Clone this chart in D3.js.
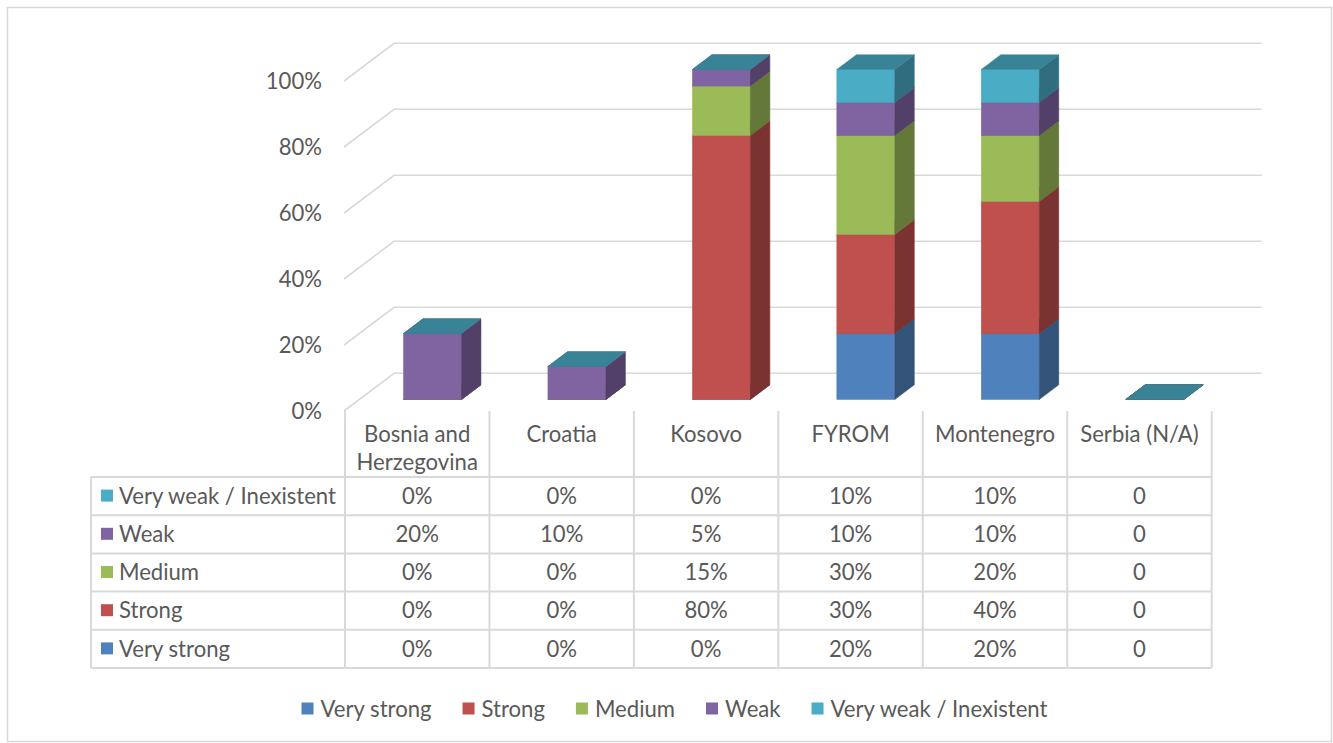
<!DOCTYPE html>
<html>
<head>
<meta charset="utf-8">
<script src="https://cdn.jsdelivr.net/npm/d3@7"></script>
<style>
  html, body { margin: 0; padding: 0; background: #fff; }
  svg { display: block; }
</style>
</head>
<body>
<svg id="chart" width="1333" height="743"></svg>
<script>
// ---- data ----
const categories = ["Bosnia and Herzegovina", "Croatia", "Kosovo", "FYROM", "Montenegro", "Serbia (N/A)"];
const seriesNames = ["Very strong", "Strong", "Medium", "Weak", "Very weak / Inexistent"];
const veryStrong = [0, 0, 0, 20, 20, 0];
const strong     = [0, 0, 80, 30, 40, 0];
const medium     = [0, 0, 15, 30, 20, 0];
const weak       = [20, 10, 5, 10, 10, 0];
const veryWeak   = [0, 0, 0, 10, 10, 0];
const notAvailable = [false, false, false, false, false, true];
const yTicks = [0, 20, 40, 60, 80, 100];
const seriesColors = ["#4F81BD", "#C0504D", "#9BBB59", "#8064A2", "#4BACC6"];

const seriesValues = [veryStrong, strong, medium, weak, veryWeak];
const rows = categories.map((c, i) => {
  const r = { category: c };
  seriesNames.forEach((s, k) => { r[s] = seriesValues[k][i]; });
  return r;
});

// ---- layout ----
const svg = d3.select("#chart");
const W = 1333, H = 743;
const textColor = "#595959";
const lineColor = "#d9d9d9";
const fontFamily = "Lato, 'Open Sans', sans-serif";

svg.append("rect").attr("x", 7.5).attr("y", 7.5).attr("width", W - 9).attr("height", H - 9)
  .attr("fill", "#fff").attr("stroke", lineColor).attr("stroke-width", 1.5);

// size text so the longest row label fills the label column
const probe = svg.append("text").attr("font-family", fontFamily).attr("font-size", 100)
  .text("Very weak / Inexistent");
const fontSize = Math.min(24, 100 * 217 / probe.node().getComputedTextLength());
probe.remove();

const x = d3.scaleBand().domain(categories).range([345, 1211.7]);
const y = d3.scaleLinear().domain([0, 100]).range([411, 81]);
const bw = x.bandwidth();

// oblique depth of the walls
const DX = 50, DY = -37.7;
const f0 = 0.305, f1 = 0.695;   // bar front / back depth
const barW = 58;

// ---- walls ----
const grid = svg.append("g").attr("fill", "none").attr("stroke", lineColor).attr("stroke-width", 1.6);
yTicks.forEach(t => {
  const y0 = y(t);
  grid.append("path").attr("d",
    `M${x.range()[0] - 1},${y0}L${x.range()[0] - 1 + DX},${y0 + DY}L${x.range()[1] + DX},${y0 + DY}`);
});

svg.append("g").selectAll("text").data(yTicks).join("text")
  .attr("x", 322).attr("y", d => y(d)).attr("dy", "0.35em")
  .attr("text-anchor", "end").attr("font-family", fontFamily).attr("font-size", fontSize)
  .attr("fill", textColor).text(d => d + "%");

// ---- stacked 3D bars ----
const stack = d3.stack().keys(seriesNames)(rows);
const barsG = svg.append("g");
categories.forEach((cat, ci) => {
  const x0 = x(cat) + (bw - barW) / 2 + DX * f0;
  const ddx = DX * (f1 - f0), ddy = DY * (f1 - f0);
  stack.forEach((layer, k) => {
    const seg = layer[ci];
    const yb0 = y(seg[0]) + DY * f0, yb1 = y(seg[1]) + DY * f0;
    const base = d3.color(seriesColors[k]);
    const side = d3.rgb(base.r * 0.64, base.g * 0.64, base.b * 0.64);
    const top = d3.rgb(base.r * 0.76, base.g * 0.76, base.b * 0.76);
    if (yb0 - yb1 > 0) {
      barsG.append("rect").attr("x", x0).attr("y", yb1).attr("width", barW).attr("height", yb0 - yb1)
        .attr("fill", base).attr("stroke", base).attr("stroke-width", 0.5);
      barsG.append("path")
        .attr("d", `M${x0 + barW},${yb1}L${x0 + barW + ddx},${yb1 + ddy}L${x0 + barW + ddx},${yb0 + ddy}L${x0 + barW},${yb0}Z`)
        .attr("fill", side).attr("stroke", side).attr("stroke-width", 0.5);
    }
    barsG.append("path")
      .attr("d", `M${x0},${yb1}L${x0 + barW},${yb1}L${x0 + barW + ddx},${yb1 + ddy}L${x0 + ddx},${yb1 + ddy}Z`)
      .attr("fill", top).attr("stroke", top).attr("stroke-width", 0.5);
  });
});

// ---- data table ----
const tableTop = 477, rowH = 38.2, tableLeft = 91;
const tableRight = x.range()[1];
const tableBottom = tableTop + rowH * seriesNames.length;
const tbl = svg.append("g").attr("stroke", lineColor).attr("stroke-width", 2);
d3.range(categories.length + 1).forEach(i => {
  const xx = x.range()[0] + i * bw;
  tbl.append("line").attr("x1", xx).attr("x2", xx).attr("y1", y(0)).attr("y2", tableBottom);
});
tbl.append("line").attr("x1", tableLeft).attr("x2", tableLeft).attr("y1", tableTop).attr("y2", tableBottom);
d3.range(seriesNames.length + 1).forEach(i => {
  const yy = tableTop + i * rowH;
  tbl.append("line").attr("x1", tableLeft).attr("x2", tableRight).attr("y1", yy).attr("y2", yy);
});

// category headers, wrapped to the column width
const hdr = svg.append("g").attr("font-family", fontFamily).attr("font-size", fontSize)
  .attr("fill", textColor).attr("text-anchor", "middle");
categories.forEach(cat => {
  const t = hdr.append("text").attr("x", x(cat) + bw / 2).attr("y", 434).attr("dy", "0.35em");
  const words = cat.split(" ");
  let line = [], lineNo = 0;
  let ts = t.append("tspan").attr("x", x(cat) + bw / 2).attr("y", 434).attr("dy", "0.35em");
  words.forEach(w => {
    line.push(w);
    ts.text(line.join(" "));
    if (ts.node().getComputedTextLength() > bw - 10 && line.length > 1) {
      line.pop();
      ts.text(line.join(" "));
      line = [w];
      lineNo++;
      ts = t.append("tspan").attr("x", x(cat) + bw / 2).attr("y", 434 + lineNo * 28).attr("dy", "0.35em").text(w);
    }
  });
});

// rows: top series first
const tableOrder = d3.range(seriesNames.length).reverse();
const body = svg.append("g").attr("font-family", fontFamily).attr("font-size", fontSize).attr("fill", textColor);
tableOrder.forEach((k, r) => {
  const cy = tableTop + r * rowH + rowH / 2;
  body.append("rect").attr("x", 101).attr("y", cy - 6.5).attr("width", 12).attr("height", 12)
    .attr("fill", seriesColors[k]);
  body.append("text").attr("x", 119).attr("y", cy).attr("dy", "0.35em").text(seriesNames[k]);
  categories.forEach((cat, ci) => {
    const v = seriesValues[k][ci];
    body.append("text").attr("x", x(cat) + bw / 2).attr("y", cy).attr("dy", "0.35em")
      .attr("text-anchor", "middle").text(notAvailable[ci] ? String(v) : v + "%");
  });
});

// ---- legend ----
const leg = svg.append("g").attr("font-family", fontFamily).attr("font-size", fontSize).attr("fill", textColor);
const legY = 709;
const items = seriesNames.map((s, k) => {
  const g = leg.append("g");
  g.append("rect").attr("x", 0).attr("y", legY - 6.5).attr("width", 12).attr("height", 12).attr("fill", seriesColors[k]);
  const t = g.append("text").attr("x", 19).attr("y", legY).attr("dy", "0.35em").text(s);
  return { g, w: 19 + t.node().getComputedTextLength() };
});
const gap = 31;
const totalW = d3.sum(items, d => d.w) + gap * (items.length - 1);
let cx = 674.5 - totalW / 2;
items.forEach(it => { it.g.attr("transform", `translate(${cx},0)`); cx += it.w + gap; });
</script>
</body>
</html>
